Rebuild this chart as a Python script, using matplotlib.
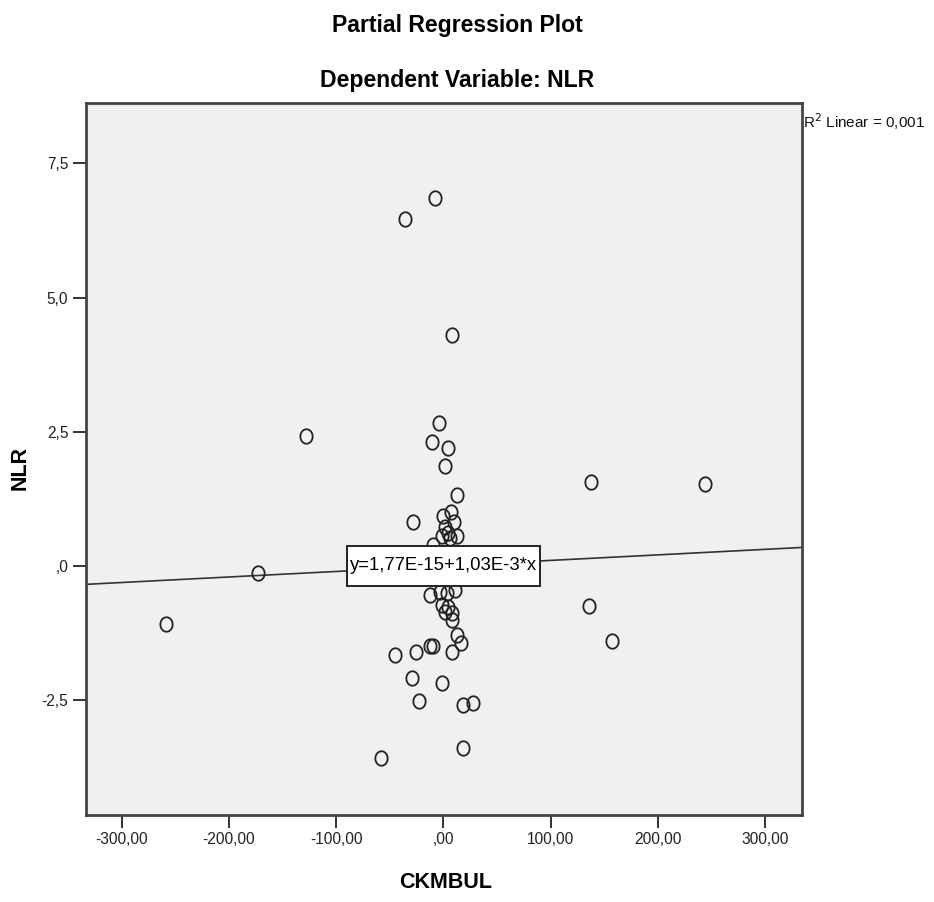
import matplotlib
matplotlib.use("Agg")
import matplotlib.pyplot as plt
from matplotlib.path import Path
from matplotlib.patches import Rectangle
import numpy as np

plt.rcParams['font.family'] = ['Liberation Sans', 'DejaVu Sans']

# ---- data ----
ckmbul = [-7.7, -35.7, 8.1, -128.0, -3.7, -10.5, 4.7, 1.3, 12.5, 137.7, 243.8,
          -28.5, 7.2, -0.3, 10.0, 1.6, 4.4, -1.5, 12.8, 6.2, -9.6,
          -12.4, -3.1, 3.2, -1.5, 4.4, 7.8, 1.6, 10.9,
          -172.8, -258.6, 135.7, 157.3, 13.1, 16.2, -12.4, -9.6, 7.8,
          -25.5, -45.1, -29.5, -1.5, -22.4, 18.6, 28.0, 18.6, -58.1, 7.8]
nlr = [6.85, 6.46, 4.30, 2.42, 2.66, 2.30, 2.19, 1.87, 1.32, 1.56, 1.53,
       0.81, 1.01, 0.93, 0.82, 0.73, 0.61, 0.55, 0.56, 0.52, 0.39,
       -0.54, -0.48, -0.50, -0.73, -0.76, -0.88, -0.85, -0.45,
       -0.13, -1.08, -0.74, -1.40, -1.28, -1.43, -1.49, -1.50, -1.61,
       -1.60, -1.66, -2.09, -2.18, -2.51, -2.59, -2.56, -3.39, -3.58, -1.01]

intercept = 1.77e-15
slope = 1.03e-3
fit_label = "y=1,77E-15+1,03E-3*x"
r2_label = "R$^2$ Linear = 0,001"

x_ticks = [-300, -200, -100, 0, 100, 200, 300]
x_tick_labels = ['-300,00', '-200,00', '-100,00', ',00', '100,00', '200,00', '300,00']
y_ticks = [-2.5, 0.0, 2.5, 5.0, 7.5]
y_tick_labels = ['-2,5', ',0', '2,5', '5,0', '7,5']

title1 = "Partial Regression Plot"
title2 = "Dependent Variable: NLR"
x_label = "CKMBUL"
y_label = "NLR"

# ---- figure ----
W, H = 934, 902
fig = plt.figure(figsize=(W / 100, H / 100), dpi=100)
ax_l, ax_r, ax_t, ax_b = 85.7, 801.7, 102.7, 815.0
ax_w_px, ax_h_px = ax_r - ax_l, ax_b - ax_t
ax = fig.add_axes([ax_l / W, (H - ax_b) / H, ax_w_px / W, ax_h_px / H])
ax.set_facecolor('#F0F0F0')

xlim = (-333.4, 334.1)
ylim = (-4.64, 8.63)
ax.set_xlim(*xlim)
ax.set_ylim(*ylim)

# slightly tall elliptical open marker, like the SPSS rendering
th = np.linspace(0, 2 * np.pi, 61)
ell = Path(np.column_stack([0.85 * np.cos(th), np.sin(th)]), closed=True)

ax.plot(ckmbul, nlr, linestyle='none', marker=ell, markersize=10.4,
        markerfacecolor='none', markeredgecolor='#222222', markeredgewidth=1.3,
        zorder=3)

xs = np.array(xlim)
ax.plot(xs, intercept + slope * xs, color='#333333', linewidth=1.2, zorder=2)

# fit label box, centred on the fit line at x = 0
cx, cy = ax.transLimits.transform((0.0, intercept))
bw, bh = 193.4 / ax_w_px, 40.0 / ax_h_px
ax.add_patch(Rectangle((cx - bw / 2, cy - bh / 2), bw, bh, transform=ax.transAxes,
                       facecolor='white', edgecolor='#222222', linewidth=1.4,
                       zorder=4))
ax.text(cx, cy, fit_label, transform=ax.transAxes, ha='center', va='center',
        fontsize=13.3, color='black', zorder=5)

ax.set_xticks(x_ticks)
ax.set_xticklabels(x_tick_labels, fontsize=11.2, color='#222222')
ax.set_yticks(y_ticks)
ax.set_yticklabels(y_tick_labels, fontsize=11.2, color='#222222')
ax.tick_params(axis='both', direction='out', length=9.5, width=1.4,
               color='#333333', pad=3)

for sp in ax.spines.values():
    sp.set_color('#444444')
    sp.set_linewidth(2.0)

# titles and labels
fig.text(457 / W, 1 - 31.7 / H, title1, ha='center', va='baseline',
         fontsize=16.6, fontweight='bold')
fig.text(457 / W, 1 - 87.3 / H, title2, ha='center', va='baseline',
         fontsize=16.6, fontweight='bold')
fig.text(446 / W, 1 - 883 / H, x_label, ha='center', va='center',
         fontsize=15.5, fontweight='bold')
fig.text(20 / W, 1 - 468 / H, y_label, ha='center', va='center', rotation=90,
         fontsize=15.5, fontweight='bold')
fig.text(803 / W, 1 - 128.3 / H, r2_label, ha='left', va='baseline',
         fontsize=11, color='#111111')

fig.savefig('out.png', dpi=100, facecolor='white')
